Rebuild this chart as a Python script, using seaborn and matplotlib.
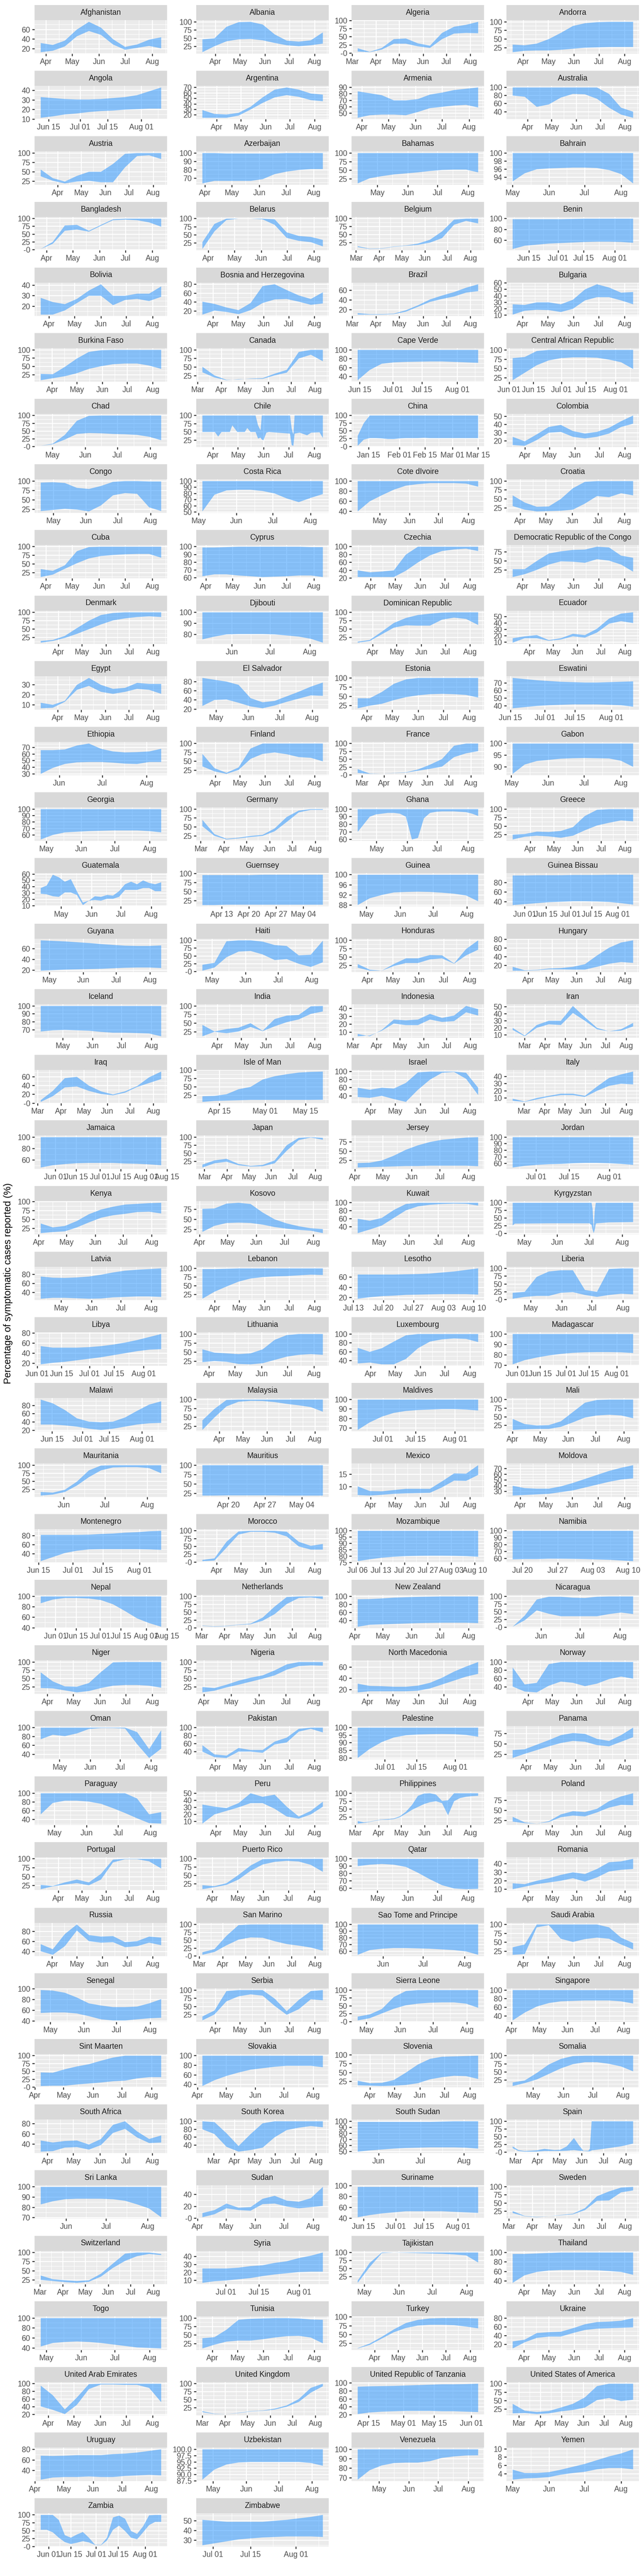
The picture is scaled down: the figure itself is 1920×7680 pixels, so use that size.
"""
plot.py
Percentage of symptomatic cases reported, per country: facet grid of ribbons.
"""

import numpy as np
import pandas as pd
import matplotlib
matplotlib.use("Agg")
import matplotlib.pyplot as plt
from matplotlib.patches import Rectangle
import seaborn as sns

# ── Data ───────────────────────────────────────────────────────────────────────
FULL = [100] * 11

START = {
    "Afghanistan": "03-26", "Albania": "03-16", "Algeria": "03-08", "Andorra": "03-19",
    "Angola": "06-11", "Argentina": "03-14", "Armenia": "03-27", "Australia": "03-13",
    "Austria": "03-10", "Azerbaijan": "03-29", "Bahamas": "04-11", "Bahrain": "05-01",
    "Bangladesh": "03-25", "Belarus": "03-25", "Belgium": "03-03", "Benin": "06-06",
    "Bolivia": "03-22", "Bosnia and Herzegovina": "03-19", "Brazil": "03-08", "Bulgaria": "03-20",
    "Burkina Faso": "03-18", "Canada": "03-07", "Cape Verde": "06-14", "Central African Republic": "06-03",
    "Chad": "04-20", "Chile": "03-19", "China": "01-09", "Colombia": "03-17",
    "Congo": "04-19", "Costa Rica": "05-04", "Cote dIvoire": "04-08", "Croatia": "03-23",
    "Cuba": "03-26", "Cyprus": "03-28", "Czechia": "03-16", "Democratic Republic of the Congo": "03-20",
    "Denmark": "03-09", "Djibouti": "05-09", "Dominican Republic": "03-13", "Ecuador": "03-10",
    "Egypt": "03-10", "El Salvador": "04-18", "Estonia": "03-21", "Eswatini": "06-16",
    "Ethiopia": "05-19", "Finland": "03-16", "France": "02-24", "Gabon": "05-02",
    "Georgia": "04-26", "Germany": "03-03", "Ghana": "04-12", "Greece": "03-09",
    "Guatemala": "04-10", "Guernsey": "04-08", "Guinea": "04-23", "Guinea Bissau": "05-24",
    "Guyana": "04-23", "Haiti": "04-22", "Honduras": "03-20", "Hungary": "03-12",
    "Iceland": "04-08", "India": "03-13", "Indonesia": "03-07", "Iran": "02-12",
    "Iraq": "03-05", "Isle of Man": "04-09", "Israel": "03-16", "Italy": "02-13",
    "Jamaica": "05-22", "Japan": "02-27", "Jersey": "04-04", "Jordan": "06-21",
    "Kenya": "04-03", "Kosovo": "04-04", "Kuwait": "04-09", "Kyrgyzstan": "04-20",
    "Latvia": "04-10", "Lebanon": "03-17", "Lesotho": "07-14", "Liberia": "04-13",
    "Libya": "06-03", "Lithuania": "03-24", "Luxembourg": "03-16", "Madagascar": "05-29",
    "Malawi": "06-09", "Malaysia": "03-10", "Maldives": "06-20", "Mali": "04-01",
    "Mauritania": "05-15", "Mauritius": "04-15", "Mexico": "03-16", "Moldova": "03-23",
    "Montenegro": "06-16", "Morocco": "03-14", "Mozambique": "07-06", "Namibia": "07-18",
    "Nepal": "05-22", "Netherlands": "03-02", "New Zealand": "04-04", "Nicaragua": "05-10",
    "Niger": "03-24", "Nigeria": "03-30", "North Macedonia": "03-20", "Norway": "03-12",
    "Oman": "04-12", "Pakistan": "03-16", "Palestine": "06-19", "Panama": "03-15",
    "Paraguay": "04-18", "Peru": "03-15", "Philippines": "03-04", "Poland": "03-12",
    "Portugal": "03-09", "Puerto Rico": "03-20", "Qatar": "04-11", "Romania": "03-12",
    "Russia": "03-18", "San Marino": "03-05", "Sao Tome and Principe": "05-13", "Saudi Arabia": "03-19",
    "Senegal": "04-22", "Serbia": "03-16", "Sierra Leone": "04-23", "Singapore": "04-02",
    "Sint Maarten": "04-07", "Slovakia": "04-06", "Slovenia": "03-17", "Somalia": "04-10",
    "South Africa": "03-24", "South Korea": "02-13", "South Sudan": "05-17", "Spain": "02-26",
    "Sri Lanka": "05-13", "Sudan": "04-06", "Suriname": "06-12", "Sweden": "03-06",
    "Switzerland": "03-02", "Syria": "06-21", "Tajikistan": "04-25", "Thailand": "03-18",
    "Togo": "04-26", "Tunisia": "03-20", "Turkey": "03-10", "Ukraine": "03-18",
    "United Arab Emirates": "03-23", "United Kingdom": "03-01",
    "United Republic of Tanzania": "04-10", "United States of America": "02-21",
    "Uruguay": "04-07", "Uzbekistan": "04-21", "Venezuela": "04-09", "Yemen": "05-01",
    "Zambia": "05-27", "Zimbabwe": "06-27",
}
COUNTRIES = list(START)

# last day of the series, where it is not Aug 11
END = {
    "China": "03-15", "Guernsey": "05-09", "Isle of Man": "05-21",
    "Mauritius": "05-08", "United Republic of Tanzania": "06-04",
}
DEFAULT_END = "08-11"

# days since the start for the series with sharp notches, otherwise even spacing
KNOT_DAYS = {
    "Chile": [0, 15, 19, 23, 33, 36, 39, 42, 51, 54, 58, 64, 67, 70, 71.5, 73.5, 77, 80,
              105.5, 107.5, 109.5, 111, 117, 126, 131, 141, 145],
    "Kyrgyzstan": [0, 2, 34, 72, 74, 75, 76, 77, 78, 79, 90, 113],
    "Spain": [0, 8, 16.5, 33, 44, 58, 66, 75, 85, 92, 98, 105, 107, 109.5, 126, 150, 167],
}

UPPER = {
    "Afghanistan": [32, 28, 37, 60, 76, 64, 40, 24, 29, 39, 44],
    "Albania": [47, 50, 85, 99, 100, 92, 62, 43, 40, 44, 68],
    "Algeria": [15, 4, 16, 43, 45, 30, 23, 62, 81, 87, 96],
    "Andorra": [34, 32, 37, 50, 68, 88, 96, 99, 100, 100, 100],
    "Angola": [33, 32, 31, 30.5, 30.5, 31, 32, 33, 35, 39, 43],
    "Argentina": [29, 22, 21, 24, 35, 52, 66, 70, 66, 59, 57],
    "Armenia": [84, 81, 78, 70, 70, 72, 79, 82, 86, 88, 90],
    "Australia": [100, 100, 100, 100, 100, 100, 100, 100, 84, 50, 40],
    "Austria": [56, 33, 24, 39, 50, 50, 71, 98, 100, 100, 100],
    "Azerbaijan": [100, 100, 99.5, 99.5, 99.5, 99.5, 99.5, 100, 100, 100, 100],
    "Bahamas": FULL,
    "Bahrain": FULL,
    "Bangladesh": [2, 25, 78, 80, 61, 80, 98, 100, 100, 100, 100],
    "Belarus": [28, 84, 100, 100, 100, 100, 98, 58, 47, 44, 35],
    "Belgium": [14, 6, 7, 13, 16, 22, 34, 60, 97, 100, 100],
    "Benin": [99, 99, 99, 99, 99, 99.5, 100, 100, 100, 100, 100],
    "Bolivia": [28, 24, 22, 27, 35, 41, 30, 30, 32, 32, 39],
    "Bosnia and Herzegovina": [41, 36, 28, 22, 38, 76, 80, 67, 55, 47, 62],
    "Brazil": [13, 11, 11, 12, 19, 29, 41, 49, 56, 65, 72],
    "Bulgaria": [27, 26, 30, 30, 27, 34, 50, 58, 53, 45, 46],
    "Burkina Faso": [28, 27, 49, 74, 94, 99, 100, 100, 100, 100, 100],
    "Canada": [51, 26, 13, 14, 17, 18, 31, 42, 94, 100, 100],
    "Cape Verde": FULL,
    "Central African Republic": [78, 81, 97, 100, 100, 100, 100, 100, 100, 100, 100],
    "Chad": [3, 10, 38, 83, 99, 100, 100, 100, 100, 100, 100],
    "Chile": [100] * 12 + [70, 55, 100, 100, 100, 100, 100, 60, 42, 100, 100, 100, 100, 100, 100],
    "China": [34, 75] + [100] * 19,
    "Colombia": [25, 19.5, 28, 37, 39.5, 32, 29, 31, 36, 44, 51],
    "Congo": [96, 97, 95, 82, 79, 87, 98, 100, 100, 99, 99],
    "Costa Rica": FULL,
    "Cote dIvoire": FULL,
    "Croatia": [60, 40, 28, 29, 50, 80, 98, 100, 100, 100, 100],
    "Cuba": [35, 30, 46, 87, 99, 100, 100, 100, 100, 100, 100],
    "Cyprus": [99, 99, 99.5, 100, 100, 100, 100, 100, 100, 99.5, 99.5],
    "Czechia": [40, 35, 37, 40, 80, 100, 100, 100, 100, 100, 100],
    "Democratic Republic of the Congo": [27, 27, 50, 71, 77, 81, 82, 90, 88, 65, 59],
    "Denmark": [15, 18, 30, 53, 75, 92, 98, 100, 100, 100, 100],
    "Djibouti": FULL,
    "Dominican Republic": [12, 17, 42, 68, 83, 92, 96, 99, 100, 100, 100],
    "Ecuador": [16, 19, 21, 13, 16, 23, 21, 31, 47, 55, 57],
    "Egypt": [12, 10, 14, 30, 37, 30, 26, 27, 32, 31, 31],
    "El Salvador": [88, 84, 80, 73, 44, 35, 38, 48, 58, 69, 78],
    "Estonia": [45, 45, 62, 84, 96, 100, 100, 100, 100, 100, 100],
    "Eswatini": [76.5, 75, 73.5, 72.5, 71.5, 71, 70.5, 70.5, 71, 71.5, 72],
    "Ethiopia": [66, 66, 67, 73, 76, 68, 64, 62.5, 63, 64, 68],
    "Finland": [71, 31, 18, 33, 86, 100, 100, 100, 100, 100, 100],
    "France": [19, 5, 4, 7, 9, 18, 33, 51, 93, 100, 100],
    "Gabon": FULL,
    "Georgia": FULL,
    "Germany": [70, 30, 17, 20, 25, 28, 46, 78, 96, 100, 100],
    "Ghana": [100] * 21,
    "Greece": [25, 27, 34, 33, 36, 47, 80, 98, 100, 100, 100],
    "Guatemala": [38, 42, 59, 55, 48, 52, 33, 15, 18, 25, 24, 27, 26, 33, 44, 48, 44, 50, 46, 44, 47],
    "Guernsey": [96, 96, 96, 96, 96, 97, 97, 97, 97, 97, 97],
    "Guinea": FULL,
    "Guinea Bissau": [95, 95, 95.5, 95.5, 95.5, 96, 96, 96, 96.5, 96.5, 96.5],
    "Guyana": [76, 75, 74, 72.5, 71, 69, 67.5, 66, 65.5, 65.5, 66.5],
    "Haiti": [22, 28, 97, 100, 100, 96, 85, 82, 52, 54, 99],
    "Honduras": [29, 12, 9, 29, 46, 46, 56, 55, 31, 74, 100],
    "Hungary": [17, 9, 10, 13, 14, 17, 23, 43, 61, 73, 78],
    "Iceland": FULL,
    "India": [45, 26, 33, 37, 50, 28, 62, 72, 74, 99, 100],
    "Indonesia": [8, 5, 13, 26, 25, 26, 33, 28, 31, 43, 39],
    "Iran": [20, 9, 24, 30, 30, 51, 35, 20, 15, 18, 27],
    "Iraq": [7, 28, 57, 60, 40, 27, 20, 27, 39, 59, 72],
    "Isle of Man": [22, 23, 28, 43, 50, 72, 82, 88, 93, 95, 96],
    "Israel": [60, 55, 60, 58, 72, 98, 100, 100, 100, 97, 60],
    "Italy": [9, 5, 10, 13, 16, 16, 13, 26, 38, 43, 47],
    "Jamaica": FULL,
    "Japan": [15, 28, 33, 17, 11, 14, 28, 75, 98, 100, 98],
    "Jersey": [18, 19, 25, 38, 54, 66, 75, 81, 84, 87, 88],
    "Jordan": FULL,
    "Kenya": [39, 28, 32, 46, 65, 78, 86, 92, 94, 96, 97],
    "Kosovo": [76, 77, 89, 91, 88, 67, 50, 40, 33, 28, 26],
    "Kuwait": [60, 55, 62, 82, 97, 100, 100, 100, 100, 100, 100],
    "Kyrgyzstan": [100, 100, 100, 100, 100, 80, 12, 75, 100, 100, 100, 100],
    "Latvia": [75, 72.5, 72, 73, 75, 79, 84, 88, 90, 91.5, 93],
    "Lebanon": [98, 98, 99, 100, 100, 100, 100, 100, 100, 100, 100],
    "Lesotho": [65, 65, 65, 65, 65.5, 66, 67, 69, 71, 74, 77],
    "Liberia": [22, 25, 73, 90, 94, 94, 31, 25, 98, 100, 100],
    "Libya": [54, 51, 51, 51, 52, 54, 57, 61, 66, 72, 78],
    "Lithuania": [58, 49, 47, 45, 47, 58, 84, 97, 100, 100, 100],
    "Luxembourg": [69, 60, 68, 83, 97, 100, 100, 100, 100, 100, 100],
    "Madagascar": FULL,
    "Malawi": [94, 85, 69, 49, 41, 39.5, 41, 51, 67, 82, 90],
    "Malaysia": [42, 74, 99, 100, 100, 100, 100, 100, 100, 100, 100],
    "Maldives": FULL,
    "Mali": [44, 29, 25, 26, 37, 64, 91, 99, 100, 100, 100],
    "Mauritania": [17, 15, 24, 49, 84, 99, 100, 100, 100, 100, 100],
    "Mauritius": FULL,
    "Mexico": [10.2, 8.3, 8.2, 8.7, 9.2, 9.2, 9.2, 12.2, 15.4, 15.3, 18.7],
    "Moldova": [40, 36, 35, 35, 39, 45, 52, 59, 66, 71.5, 76],
    "Montenegro": [82, 82, 82, 82, 82.5, 84, 85, 87, 88, 90, 91],
    "Morocco": [7, 12, 65, 98, 100, 100, 100, 97, 65, 52, 58],
    "Mozambique": FULL,
    "Namibia": FULL,
    "Nepal": FULL,
    "Netherlands": [8, 5, 7, 11, 14, 33, 68, 98, 100, 100, 100],
    "New Zealand": [93, 93.5, 95, 97, 98, 99, 99.5, 100, 100, 100, 100],
    "Nicaragua": [2, 38, 90, 99, 99, 96, 95, 99, 100, 100, 100],
    "Niger": [69, 42, 27, 26, 37, 70, 99, 100, 100, 100, 100],
    "Nigeria": [25, 22, 32, 44, 53, 60, 75, 93, 100, 100, 100],
    "North Macedonia": [30.5, 26.5, 26, 25, 25, 27, 32, 41, 52, 61, 69],
    "Norway": [87, 46, 50, 95, 100, 100, 100, 100, 100, 100, 100],
    "Oman": [100, 100, 100, 100, 100, 100, 100, 100, 90, 52, 94],
    "Pakistan": [56, 33, 30, 49, 44, 44, 65, 75, 97, 100, 100],
    "Palestine": FULL,
    "Panama": [35, 37, 48, 59, 71, 76, 74, 62, 57, 71, 89],
    "Paraguay": [100, 100, 100, 100, 100, 100, 100, 100, 88, 52, 57],
    "Peru": [34, 31, 29, 36, 50, 45, 48, 31, 17, 25, 38],
    "Philippines": [13, 9, 11, 15, 18, 19, 21, 28, 42, 63, 92, 99, 100, 96, 76, 78, 100, 100, 100, 100, 100],
    "Poland": [34, 20, 17, 23, 40, 48, 46, 54, 73, 85, 93],
    "Portugal": [27, 24, 34, 42, 34, 58, 98, 100, 100, 100, 100],
    "Puerto Rico": [21, 18, 27, 52, 80, 99, 100, 100, 100, 100, 100],
    "Qatar": FULL,
    "Romania": [17, 16, 20, 23, 27, 30, 28, 34, 42, 43, 46],
    "Russia": [55, 45, 75, 94, 73, 70, 71, 59, 61, 70, 68],
    "San Marino": [12, 22, 64, 98, 100, 100, 100, 100, 100, 100, 100],
    "Sao Tome and Principe": FULL,
    "Saudi Arabia": [36, 44, 100, 100, 100, 100, 100, 100, 92, 63, 48],
    "Senegal": [98, 97, 93, 84, 73, 69, 66, 66, 67, 73, 81],
    "Serbia": [20, 38, 97, 100, 100, 100, 74, 36, 70, 97, 100],
    "Sierra Leone": [16, 23, 40, 78, 97, 100, 100, 100, 100, 100, 100],
    "Singapore": FULL,
    "Sint Maarten": [47, 46, 57, 66, 73, 84, 94, 100, 100, 100, 100],
    "Slovakia": FULL,
    "Slovenia": [27, 20, 21, 29, 50, 73, 89, 95, 96, 97, 98],
    "Somalia": [18, 24, 47, 73, 90, 99, 100, 100, 100, 100, 100],
    "South Africa": [47, 43, 46, 47, 39, 50, 78, 85, 65, 50, 57],
    "South Korea": [100, 98, 70, 38, 68, 95, 100, 100, 100, 100, 100],
    "South Sudan": [99, 99, 99, 99, 99, 99, 99, 99.5, 100, 100, 100],
    "Spain": [19, 7, 4, 6, 11, 7, 8, 19, 46, 22, 5, 5, 11, 100, 100, 100, 100],
    "Sri Lanka": FULL,
    "Sudan": [9, 14, 25, 18, 19, 33, 38, 30, 28, 34, 53],
    "Suriname": [98, 98, 98, 98, 98, 98, 97.5, 97.5, 97.5, 97.5, 97.5],
    "Sweden": [25, 10, 7, 9, 13, 17, 34, 71, 86, 98, 100],
    "Switzerland": [37, 27, 24, 22, 24, 42, 70, 97, 100, 100, 96],
    "Syria": [25, 25, 25, 26, 28, 29, 32, 34, 38, 41, 45],
    "Tajikistan": [13, 68, 100, 100, 100, 100, 100, 100, 100, 100, 100],
    "Thailand": [97, 97, 98, 99, 100, 100, 100, 100, 100, 100, 100],
    "Togo": FULL,
    "Tunisia": [41, 44, 66, 95, 98, 99, 100, 100, 99, 96, 95],
    "Turkey": [12, 25, 44, 65, 83, 92, 96, 97, 97, 97, 96],
    "Ukraine": [27, 31, 46, 48, 49, 57, 66, 71, 72, 74, 80],
    "United Arab Emirates": [95, 70, 33, 64, 99, 100, 100, 100, 100, 100, 100],
    "United Kingdom": [14, 6, 5, 9, 14, 16, 22, 32, 52, 87, 100],
    "United Republic of Tanzania": [91, 92, 92.5, 93, 94, 95, 96, 97, 97, 97.5, 98.5],
    "United States of America": [41, 21, 17, 20, 30, 41, 60, 93, 100, 100, 100],
    "Uruguay": [68, 67.5, 68, 69, 69, 69, 71, 72, 74, 77, 80],
    "Uzbekistan": FULL,
    "Venezuela": FULL,
    "Yemen": [5, 4.2, 4.2, 4.4, 5, 5.7, 6.4, 7.3, 8.2, 8.9, 9.9],
    "Zambia": [100, 100, 100, 84, 36, 28, 38, 46, 28, 6, 5, 28, 92, 98, 88, 49, 40, 64, 99, 100, 100],
    "Zimbabwe": [51, 50, 49, 49, 49, 49, 50, 51, 52.5, 54, 56],
}

LOWER = {
    "Afghanistan": [13, 16, 25, 46, 57, 49, 29, 18, 22, 26, 21],
    "Albania": [8, 26, 41, 47, 48, 44, 36, 29, 26, 29, 34],
    "Algeria": [5, 3, 11, 29, 29, 21, 16, 43, 60, 62, 61],
    "Andorra": [12, 16, 17, 17, 19, 22, 25, 26, 27, 27, 27],
    "Angola": [11.5, 13, 15, 16, 17.5, 18.5, 19, 20, 20.5, 21, 21],
    "Argentina": [15, 15, 15, 19, 30, 42, 52, 56, 53, 47, 45],
    "Armenia": [43, 47, 48, 48, 47, 52, 58, 60, 62, 63, 59],
    "Australia": [80, 77, 52, 58, 75, 84, 83, 72, 50, 33, 25],
    "Austria": [38, 26, 19, 24, 26, 22, 22, 62, 92, 94, 84],
    "Azerbaijan": [64, 67, 67, 67, 67, 69, 75, 78, 80, 81, 81],
    "Bahamas": [12, 27, 33, 38, 41, 44, 48, 51, 52, 52, 44],
    "Bahrain": [93, 95, 96, 96.2, 96.3, 96.4, 96.4, 96.3, 95.8, 94.8, 92.5],
    "Bangladesh": [2, 19, 61, 65, 58, 77, 95, 97, 95, 88, 74],
    "Belarus": [7, 61, 96, 100, 100, 98, 81, 41, 32, 28, 15],
    "Belgium": [11, 5, 6, 12, 15, 18, 25, 39, 81, 93, 85],
    "Benin": [44, 50, 52, 54, 55, 56, 57, 57.5, 57.5, 57, 55.5],
    "Bolivia": [12, 12, 16, 23, 30, 30, 21, 26, 27, 25, 29],
    "Bosnia and Herzegovina": [12, 21, 18, 13, 22, 38, 46, 47, 41, 34, 37],
    "Brazil": [10, 10, 10, 11, 16, 26, 36, 42, 47, 55, 58],
    "Bulgaria": [11, 17, 18.5, 18, 15, 20, 33, 38, 38, 33, 27],
    "Burkina Faso": [9, 15, 21, 30, 43, 51, 57, 59, 59, 53, 43],
    "Canada": [35, 20, 12, 15, 16, 16, 26, 34, 75, 86, 67],
    "Cape Verde": [32, 55, 69, 72, 73, 73.5, 74, 74, 73, 72, 71],
    "Central African Republic": [19, 39, 59, 72, 78, 80, 80, 79, 74, 67, 49],
    "Chad": [3, 8, 23, 41, 44, 43, 41, 40, 38, 32, 21],
    "Chile": [50, 50, 36, 50, 50, 70, 60, 50, 50, 62, 50, 50, 30, 33, 27, 25, 48, 50,
              45, 10, 8, 45, 48, 40, 48, 49, 32],
    "China": [2, 22, 27, 27, 26, 24, 24, 26, 27, 27, 27, 28, 27, 27, 27, 27, 27, 27, 27, 27, 27],
    "Colombia": [15, 14, 21, 30, 31, 25, 23, 25, 29, 37, 41],
    "Congo": [20, 23, 26, 24, 19, 35, 62, 68, 66, 30, 20],
    "Costa Rica": [51, 78, 85, 86, 86, 84, 80, 72, 66, 73, 79],
    "Cote dIvoire": [40, 60, 72, 83, 91, 94, 96, 96, 96, 95, 89],
    "Croatia": [30, 20, 15, 16, 17, 20, 37, 58, 55, 66, 60],
    "Cuba": [12, 19, 36, 52, 66, 73, 76, 78, 79, 79, 68],
    "Cyprus": [62, 64.5, 64.5, 63, 62, 61, 61.5, 62, 63, 63, 61],
    "Czechia": [23, 23, 23, 23, 39, 60, 78, 89, 93, 95, 89],
    "Democratic Republic of the Congo": [5, 13, 25, 40, 49, 48, 45, 55, 51, 40, 20],
    "Denmark": [10, 15, 24, 36, 50, 64, 76, 82, 86, 88, 86],
    "Djibouti": [75.5, 78, 80, 80.3, 80.3, 80.3, 80, 79, 78, 76, 72.5],
    "Dominican Republic": [9, 14, 34, 54, 61, 60, 60, 78, 84, 80, 62],
    "Ecuador": [9, 16, 16, 12, 14, 19, 17, 25, 39, 43, 40],
    "Egypt": [6.5, 7, 13, 25, 29, 23, 21, 23, 26, 25, 21],
    "El Salvador": [27, 40, 41, 34, 26, 22, 28, 36, 43, 50, 49],
    "Estonia": [18, 25, 30, 40, 48, 53, 56, 57, 56, 54, 47],
    "Eswatini": [37, 38.5, 40, 41, 41.5, 42, 42, 42, 41.5, 41, 39],
    "Ethiopia": [30, 39, 45, 47.5, 48, 48, 47, 45.5, 45, 48, 48],
    "Finland": [36, 22, 15, 26, 57, 71, 75, 70, 62, 60, 50],
    "France": [7, 4, 4, 6.5, 8, 14, 20, 27, 57, 69, 76],
    "Gabon": [87, 91, 92.5, 93, 93.5, 93.7, 93.8, 93.7, 93.6, 92.6, 90],
    "Georgia": [53, 60, 64, 65, 66, 66.5, 67, 67, 67, 66, 64],
    "Germany": [52, 25, 15, 18, 22, 25, 38, 64, 91, 98, 98],
    "Ghana": [70, 80, 90, 93, 94, 95, 95, 94, 90, 60, 62, 88, 95, 96.5, 97, 97, 97, 96.5, 96, 94, 91],
    "Greece": [11, 19, 22, 20, 16, 22, 38, 52, 60, 67, 64],
    "Guatemala": [29, 28, 25, 24, 31, 31, 27, 11, 18, 19, 18, 21, 21, 24, 35, 35, 35, 38, 38, 33, 33],
    "Guernsey": [13, 13, 14, 14, 14, 14, 14, 14, 14, 14, 14],
    "Guinea": [88, 90.7, 92, 93, 93.2, 93.3, 93.2, 92.9, 92.5, 91.8, 89.5],
    "Guinea Bissau": [33, 35, 37, 39, 40, 41, 41, 40.5, 39.5, 37, 34],
    "Guyana": [19, 20, 21, 21.5, 22, 22.5, 23.5, 24.5, 25, 25, 24],
    "Haiti": [3, 13, 46, 64, 66, 55, 37, 40, 25, 15, 30],
    "Honduras": [18, 9, 9, 23, 32, 32, 43, 46, 30, 55, 72],
    "Hungary": [8, 8, 9, 11, 11, 10.5, 10.5, 17, 24, 28, 26],
    "Iceland": [68, 69.5, 70, 69.5, 69, 67.5, 66.5, 66.5, 66, 65.5, 62],
    "India": [12, 25, 21, 26, 39, 27, 41, 53, 61, 77, 84],
    "Indonesia": [5, 6, 12, 21, 19, 19, 26, 23, 24, 35, 31],
    "Iran": [17, 8, 20, 25, 24, 41, 30, 18, 15, 16, 22],
    "Iraq": [3, 16, 36, 38, 28, 21, 18, 24, 37, 46, 55],
    "Isle of Man": [5, 8, 9, 10, 11, 11, 11, 11, 11, 11, 11.5],
    "Israel": [37, 35, 40, 32, 25, 55, 80, 97, 99, 82, 42],
    "Italy": [6, 4.5, 8, 11.5, 14, 14, 11.5, 20, 27, 30, 29],
    "Jamaica": [47, 51, 53, 54.5, 55, 55, 55, 54, 53.5, 52.5, 51],
    "Japan": [6, 19, 24, 13, 9, 10, 19, 58, 91, 99, 92],
    "Jersey": [6, 7, 8, 9, 10, 10, 11, 11, 11, 11, 9.5],
    "Jordan": [54, 56.5, 58, 59, 59.5, 60.5, 61, 61, 60.5, 59.5, 58],
    "Kenya": [12, 15, 17, 28, 42, 55, 62, 66, 71, 72, 67],
    "Kosovo": [19, 34, 41, 42, 41, 37, 31, 27, 24, 22, 16],
    "Kuwait": [24, 33, 43, 62, 81, 91, 95, 97, 98, 97.5, 93],
    "Kyrgyzstan": [26, 32, 33, 33, 28, 12, 1, 12, 32, 33, 36, 37],
    "Latvia": [26, 28, 28, 27, 26, 26.5, 29, 30, 31, 31, 30],
    "Lebanon": [13, 33, 48, 62, 71, 75, 77, 78, 80, 82, 81],
    "Lesotho": [18, 21, 23, 24, 25.5, 26, 26.5, 27, 27, 27, 26],
    "Liberia": [3, 9, 12, 12, 22, 24, 15, 9, 15, 19, 17],
    "Libya": [18, 21, 23, 26, 29, 32, 36, 40, 44, 47, 48],
    "Lithuania": [23, 26, 24, 18, 17, 20, 29, 38, 43, 45, 43],
    "Luxembourg": [34, 36, 32, 32, 44, 68, 83, 88, 90, 89, 82],
    "Madagascar": [71, 75, 77.5, 79.5, 81, 82, 82.5, 82.7, 82.7, 82.5, 81.8],
    "Malawi": [34, 34, 32, 29, 24, 21, 24, 29, 34, 37, 38],
    "Malaysia": [15, 50, 81, 94, 96.5, 96, 93, 88, 84, 79, 66],
    "Maldives": [68, 76, 82, 86, 88, 89, 89.5, 90, 90, 89.5, 88.5],
    "Mali": [12, 14, 15, 15, 21, 34, 48, 54, 56, 54, 46],
    "Mauritania": [6, 9, 17, 37, 63, 84, 93, 94, 94, 91, 75],
    "Mauritius": [19, 19, 19.5, 19.5, 19.5, 19.5, 19.5, 19, 19, 19, 19],
    "Mexico": [6.7, 6.5, 6.8, 7.2, 7.4, 7.5, 7.6, 9.8, 12.5, 12.4, 14.8],
    "Moldova": [23, 24, 25, 26, 29, 32, 37, 42, 47, 51, 53],
    "Montenegro": [24, 33, 42, 47, 50, 50.5, 50.5, 50.5, 50.5, 50, 49],
    "Morocco": [3, 5, 46, 88, 97, 97, 94, 82, 50, 40, 40],
    "Mozambique": [76, 77.5, 78.7, 79.5, 80, 80.2, 80.3, 80.3, 80.2, 80, 79.5],
    "Namibia": [58.6, 59, 59, 59.5, 59.5, 59.3, 59, 58.5, 58, 57, 56],
    "Nepal": [87, 94, 97, 97, 96, 93, 85, 72, 58, 49, 42],
    "Netherlands": [7, 4, 6, 10, 12, 23, 44, 76, 95, 97, 92],
    "New Zealand": [25, 30, 31, 32, 33, 34, 34.5, 35, 35, 35, 34],
    "Nicaragua": [2, 23, 55, 44, 36, 36, 36, 36, 43, 48, 43],
    "Niger": [22, 21, 15, 9, 13, 22, 29, 31, 31, 29, 23],
    "Nigeria": [9, 14, 24, 32, 41, 50, 60, 77, 88, 90, 89],
    "North Macedonia": [15, 17, 17, 17, 17, 18, 22, 29, 36, 43, 48],
    "Norway": [41, 29, 27, 43, 53, 50, 42, 48, 59, 65, 60],
    "Oman": [74, 84, 81, 87, 97, 99, 99, 98, 63, 32, 53],
    "Pakistan": [40, 26, 24, 40, 40, 37, 58, 63, 90, 97, 88],
    "Palestine": [80, 86, 90.5, 93.5, 95, 95.5, 95.7, 95.8, 95.7, 95.2, 94],
    "Panama": [16, 26, 35, 44, 52, 57, 55, 47, 44, 55, 66],
    "Paraguay": [52, 78, 83, 83, 81, 76, 66, 55, 43, 32, 31],
    "Peru": [7, 20, 25, 30, 36, 36, 28, 17, 14, 20, 31],
    "Philippines": [5, 7, 10, 14, 17, 17, 19, 25, 36, 48, 57, 66, 72, 75, 69, 31, 75, 85, 89, 91, 92],
    "Poland": [22, 18, 17, 21, 33, 37, 35, 45, 57, 64, 63],
    "Portugal": [15, 23, 28, 32, 26, 42, 90, 99, 99, 93, 73],
    "Puerto Rico": [9, 15, 22, 38, 64, 83, 91, 94, 92, 82, 61],
    "Qatar": [90, 92, 93, 92, 89, 81, 72, 64, 59.5, 58.5, 59],
    "Romania": [10, 13, 16, 18, 20, 23, 19, 24, 31, 33, 34],
    "Russia": [41, 34, 51, 82, 61, 58, 59, 49, 51, 58, 53],
    "San Marino": [4, 13, 34, 52, 59, 58, 47, 38, 33, 27, 17],
    "Sao Tome and Principe": [55, 62, 64, 65, 65, 64.5, 64, 63, 62, 60, 55],
    "Saudi Arabia": [15, 17, 92, 98, 60, 51, 59, 63, 60, 44, 30],
    "Senegal": [55, 56, 56, 54, 49, 43, 41, 41, 43, 45, 46],
    "Serbia": [8, 26, 66, 81, 87, 83, 52, 25, 42, 72, 69],
    "Sierra Leone": [4, 11, 26, 41, 52, 57, 60, 61, 61, 57, 44],
    "Singapore": [30, 48, 62, 70, 74, 75, 76, 76, 76, 74, 69],
    "Sint Maarten": [4, 5, 5, 9, 12, 15, 19, 21, 28, 32, 32],
    "Slovakia": [37, 49, 58, 65, 71, 74, 77, 79, 79, 79, 76],
    "Slovenia": [14, 13, 12, 13, 15, 20, 31, 37, 41, 40, 32],
    "Somalia": [7, 16, 27, 44, 61, 74, 80, 80, 75, 67, 52],
    "South Africa": [25, 26, 33, 34, 29, 38, 62, 70, 53, 42, 43],
    "South Korea": [80, 68, 36, 24, 28, 34, 60, 78, 84, 88, 85],
    "South Sudan": [50, 52, 53.5, 55, 56, 56.5, 57, 57, 57, 56.5, 55],
    "Spain": [13, 4, 2, 2, 4, 4, 4, 5, 7, 5, 4, 3, 3, 6, 11, 19, 28],
    "Sri Lanka": [83, 86, 88, 88.5, 88.5, 88.5, 88, 86.5, 83, 79, 70.5],
    "Sudan": [2, 7, 17, 14, 13, 24, 25, 20, 17, 19, 21],
    "Suriname": [42, 46, 49, 51, 53, 53, 53, 53, 52, 51, 50],
    "Sweden": [19, 9, 6, 9, 12, 15, 28, 57, 58, 83, 89],
    "Switzerland": [25, 22, 19, 17, 20, 34, 58, 77, 90, 96, 93],
    "Syria": [7, 9, 10, 11.5, 13, 15.5, 17.5, 19, 20.5, 21, 21],
    "Tajikistan": [6, 55, 98, 100, 99, 98, 97, 96, 94, 91, 69],
    "Thailand": [36, 52, 59, 62, 63, 63, 63, 62.5, 61, 59, 53],
    "Togo": [43, 50, 52, 53, 52, 50, 47, 44, 41, 40, 39],
    "Tunisia": [11, 22, 31, 34, 34, 38, 43, 47, 48, 43, 26],
    "Turkey": [11, 21, 39, 57, 69, 76, 78, 78, 77, 73, 68],
    "Ukraine": [11, 25, 35, 38, 38, 46, 53, 56, 57, 58, 59],
    "United Arab Emirates": [41, 32, 21, 45, 86, 98, 98, 97, 97, 89, 52],
    "United Kingdom": [11, 5, 5, 8, 13, 15, 19, 28, 43, 72, 92],
    "United Republic of Tanzania": [22, 26, 28, 29, 30, 30, 30, 29, 29, 28, 27],
    "United States of America": [13, 14, 11, 13, 19, 23, 30, 52, 58, 49, 53],
    "Uruguay": [23, 27, 28, 28, 29, 28, 28, 30, 31, 32, 31],
    "Uzbekistan": [88, 92, 94, 94.8, 95, 95, 95, 95, 95, 94.6, 93.5],
    "Venezuela": [68, 78, 83, 85.5, 86, 86, 87.5, 91, 92.5, 93.5, 93.7],
    "Yemen": [2.6, 2.9, 3, 3.2, 3.8, 4.2, 4.5, 5.1, 5.4, 5.4, 5.1],
    "Zambia": [53, 53, 45, 28, 14, 8, 12, 17, 13, 5, 4, 19, 53, 66, 49, 28, 23, 45, 68, 78, 78],
    "Zimbabwe": [25, 27, 29, 31, 32, 33, 33.5, 34, 34, 34, 33.5],
}

# y break spacing per country, 25 unless listed
DEFAULT_STEP = 25
Y_STEP = {
    "Afghanistan": 20, "Angola": 10, "Argentina": 10, "Armenia": 10, "Australia": 20,
    "Azerbaijan": 10, "Bahrain": 2, "Benin": 20, "Bolivia": 10, "Bosnia and Herzegovina": 20,
    "Brazil": 20, "Bulgaria": 10, "Cape Verde": 20, "Colombia": 10, "Costa Rica": 10,
    "Cote dIvoire": 20, "Cyprus": 10, "Czechia": 20, "Djibouti": 10, "Ecuador": 10,
    "Egypt": 10, "El Salvador": 20, "Eswatini": 10, "Ethiopia": 10, "Gabon": 5,
    "Georgia": 10, "Ghana": 10, "Guatemala": 10, "Guinea": 4, "Guinea Bissau": 20,
    "Guyana": 20, "Hungary": 20, "Iceland": 10, "Indonesia": 10, "Iran": 10, "Iraq": 20,
    "Israel": 20, "Italy": 10, "Jamaica": 20, "Jordan": 10, "Kuwait": 20, "Latvia": 20,
    "Lesotho": 20, "Libya": 20, "Luxembourg": 20, "Madagascar": 10, "Malawi": 20,
    "Maldives": 10, "Mexico": 5, "Moldova": 10, "Montenegro": 20, "Mozambique": 5,
    "Namibia": 10, "Nepal": 20, "New Zealand": 20, "North Macedonia": 20, "Norway": 20,
    "Oman": 20, "Pakistan": 20, "Palestine": 5, "Paraguay": 20, "Peru": 10, "Qatar": 10,
    "Romania": 10, "Russia": 20, "Sao Tome and Principe": 10, "Senegal": 20,
    "Singapore": 20, "Slovakia": 20, "South Africa": 20, "South Korea": 20,
    "South Sudan": 10, "Sri Lanka": 10, "Sudan": 20, "Suriname": 20, "Syria": 10,
    "Thailand": 20, "Togo": 20, "United Arab Emirates": 20,
    "United Republic of Tanzania": 20, "Ukraine": 20, "Uruguay": 20, "Uzbekistan": 2.5,
    "Venezuela": 10, "Yemen": 2, "Zimbabwe": 10,
}

# x breaks
MONTH_TICKS = ["03-01", "04-01", "05-01", "06-01", "07-01", "08-01"]
HALF_MONTH_TICKS = ["06-01", "06-15", "07-01", "07-15", "08-01", "08-15"]
SUMMER_WEEK_TICKS = ["07-06", "07-13", "07-20", "07-27", "08-03", "08-10"]
SPRING_WEEK_TICKS = ["04-13", "04-20", "04-27", "05-04"]
SPRING_HALF_TICKS = ["04-15", "05-01", "05-15", "06-01"]
WINTER_TICKS = ["01-15", "02-01", "02-15", "03-01", "03-15"]
X_TICKS = {
    "Angola": HALF_MONTH_TICKS, "Benin": HALF_MONTH_TICKS, "Cape Verde": HALF_MONTH_TICKS,
    "Central African Republic": HALF_MONTH_TICKS, "Eswatini": HALF_MONTH_TICKS,
    "Guinea Bissau": HALF_MONTH_TICKS, "Jamaica": HALF_MONTH_TICKS, "Jordan": HALF_MONTH_TICKS,
    "Libya": HALF_MONTH_TICKS, "Madagascar": HALF_MONTH_TICKS, "Malawi": HALF_MONTH_TICKS,
    "Maldives": HALF_MONTH_TICKS, "Montenegro": HALF_MONTH_TICKS, "Nepal": HALF_MONTH_TICKS,
    "Palestine": HALF_MONTH_TICKS, "Suriname": HALF_MONTH_TICKS, "Syria": HALF_MONTH_TICKS,
    "Zambia": HALF_MONTH_TICKS, "Zimbabwe": HALF_MONTH_TICKS,
    "Lesotho": SUMMER_WEEK_TICKS, "Mozambique": SUMMER_WEEK_TICKS, "Namibia": SUMMER_WEEK_TICKS,
    "Guernsey": SPRING_WEEK_TICKS, "Mauritius": SPRING_WEEK_TICKS,
    "Isle of Man": SPRING_HALF_TICKS, "United Republic of Tanzania": SPRING_HALF_TICKS,
    "China": WINTER_TICKS,
}

Y_LABEL = "Percentage of symptomatic cases reported (%)"

# ── Style ──────────────────────────────────────────────────────────────────────
W, H, DPI = 1920, 7680, 188
COL_LEFT = [103, 585, 1048, 1510]
PANEL_W, PANEL_H, STRIP_H = 395, 99.5, 45
FIRST_TOP, ROW_PITCH = 15.1, 195.6

sns.set_theme(style="darkgrid", rc={
    "axes.facecolor": "#EBEBEB",
    "axes.axisbelow": True,
    "grid.color": "white",
    "xtick.color": "#333333",
    "ytick.color": "#333333",
    "xtick.labelcolor": "#4D4D4D",
    "ytick.labelcolor": "#4D4D4D",
    "xtick.labelsize": 8.8,
    "ytick.labelsize": 8.8,
    "xtick.major.size": 2.75,
    "ytick.major.size": 2.75,
    "xtick.major.width": 1.07,
    "ytick.major.width": 1.07,
    "xtick.major.pad": 2.2,
    "ytick.major.pad": 2.2,
    "xtick.bottom": True,
    "ytick.left": True,
})
plt.rcParams["font.family"] = ["Liberation Sans", "DejaVu Sans"]


def day(text):
    return pd.Timestamp("2020-" + text)


def long_table():
    rows = []
    for name in COUNTRIES:
        upper, lower = UPPER[name], LOWER[name]
        start = day(START[name])
        end = day(END.get(name, DEFAULT_END))
        total = (end - start).days
        days = KNOT_DAYS.get(name, np.linspace(0, total, len(upper)))
        rows.append(pd.DataFrame({
            "country": name,
            "date": start + pd.to_timedelta(days, unit="D"),
            "lower": lower,
            "upper": upper,
        }))
    return pd.concat(rows, ignore_index=True)


def midpoints(breaks, lo, hi):
    # ggplot style minor breaks: halfway between majors, and half a gap past them
    if len(breaks) < 2:
        return []
    gaps = np.diff(breaks)
    mids = list(breaks[:-1] + gaps / 2)
    mids += [breaks[0] - gaps[0] / 2, breaks[-1] + gaps[-1] / 2]
    return [m for m in mids if lo < m < hi]


def draw_ribbon(data, color=None, **kwargs):
    ax = plt.gca()
    name = data["country"].iloc[0]
    ax.fill_between(data["date"], data["lower"], data["upper"],
                    color="dodgerblue", alpha=0.5, linewidth=0, zorder=2)

    # x scale, 5% expansion either side
    first, last = data["date"].min(), data["date"].max()
    pad = (last - first) * 0.05
    x_lo, x_hi = first - pad, last + pad
    ax.set_xlim(x_lo, x_hi)
    ticks = [day(t) for t in X_TICKS.get(name, MONTH_TICKS)]
    ticks = [t for t in ticks if x_lo <= t <= x_hi]
    fmt = "%b %d" if name in X_TICKS else "%b"
    ax.set_xticks(ticks, [t.strftime(fmt) for t in ticks])
    x_nums = matplotlib.dates.date2num(ticks)
    ax.set_xticks(midpoints(x_nums, matplotlib.dates.date2num(x_lo),
                            matplotlib.dates.date2num(x_hi)), minor=True)

    # y scale, 5% expansion either side
    y_min, y_max = data["lower"].min(), data["upper"].max()
    y_pad = (y_max - y_min) * 0.05
    y_lo, y_hi = y_min - y_pad, y_max + y_pad
    ax.set_ylim(y_lo, y_hi)
    step = Y_STEP.get(name, DEFAULT_STEP)
    y_ticks = np.arange(np.ceil(y_lo / step), np.floor(y_hi / step) + 1) * step
    label_fmt = "{:.1f}" if step == 2.5 else "{:g}"
    ax.set_yticks(y_ticks, [label_fmt.format(v) for v in y_ticks])
    ax.set_yticks(midpoints(y_ticks, y_lo, y_hi), minor=True)

    ax.grid(which="major", color="white", linewidth=1.07)
    ax.grid(which="minor", color="white", linewidth=0.53)
    ax.tick_params(which="minor", length=0)
    ax.set_xlabel("")
    ax.set_ylabel("")


df = long_table()
g = sns.FacetGrid(df, col="country", col_order=COUNTRIES, col_wrap=4,
                  sharex=False, sharey=False, height=1, aspect=1, despine=False)
g.map_dataframe(draw_ribbon)
g.set_titles("")
g.set_axis_labels("", "")

fig = g.figure
fig.set_size_inches(W / DPI, H / DPI)
for i, name in enumerate(COUNTRIES):
    ax = g.axes_dict[name]
    row, col = divmod(i, 4)
    top = FIRST_TOP + row * ROW_PITCH + STRIP_H
    ax.set_position([COL_LEFT[col] / W, 1 - (top + PANEL_H) / H, PANEL_W / W, PANEL_H / H])
    for side in ax.spines.values():
        side.set_visible(False)
    ax.tick_params(axis="x", labelbottom=True)
    ax.tick_params(axis="y", labelleft=True)
    strip = STRIP_H / PANEL_H
    ax.add_patch(Rectangle((0, 1), 1, strip, transform=ax.transAxes,
                           facecolor="#D9D9D9", edgecolor="none", clip_on=False))
    ax.text(0.5, 1 + strip / 2, name, transform=ax.transAxes, ha="center", va="center",
            fontsize=8.8, color="#1A1A1A", clip_on=False)

fig.text(24 / W, 1 - 3827 / H, Y_LABEL, rotation=90, ha="center", va="center",
         fontsize=11, color="black")

fig.savefig("out.png", dpi=DPI, facecolor="white")
